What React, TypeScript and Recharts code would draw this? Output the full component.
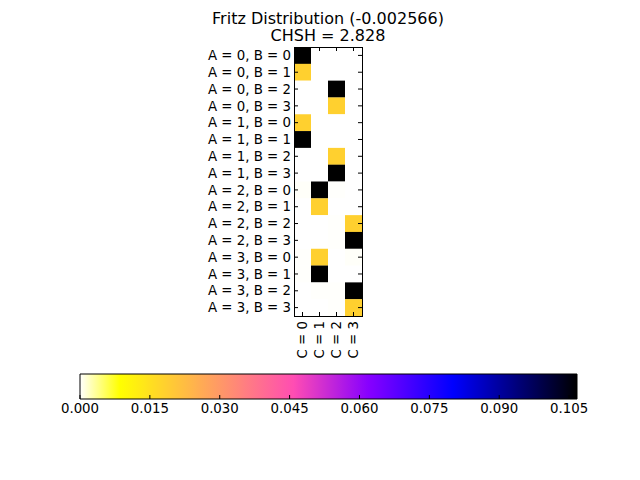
import { BarChart, Bar, XAxis, YAxis, Cell } from "recharts";

const FONT = "'DejaVu Sans', sans-serif";

// rows of the distribution, (A, B) pairs
const rowLabels = [
  "A = 0, B = 0", "A = 0, B = 1", "A = 0, B = 2", "A = 0, B = 3",
  "A = 1, B = 0", "A = 1, B = 1", "A = 1, B = 2", "A = 1, B = 3",
  "A = 2, B = 0", "A = 2, B = 1", "A = 2, B = 2", "A = 2, B = 3",
  "A = 3, B = 0", "A = 3, B = 1", "A = 3, B = 2", "A = 3, B = 3",
];
const colLabels = ["C = 0", "C = 1", "C = 2", "C = 3"];

// probability per column C, one entry per row
const c0 = [0.1067, 0.0183, 0, 0, 0.0183, 0.1067, 0, 0, 0.0002, 0, 0, 0, 0.0001, 0.0001, 0, 0];
const c1 = [0, 0, 0, 0, 0, 0, 0, 0, 0.1067, 0.0183, 0, 0, 0.0183, 0.1067, 0.0001, 0];
const c2 = [0, 0, 0.1067, 0.0183, 0, 0, 0.0183, 0.1067, 0.0001, 0, 0.0001, 0.0001, 0, 0, 0.0001, 0.0001];
const c3 = [0, 0, 0, 0, 0, 0, 0, 0, 0, 0, 0.0183, 0.1067, 0.0002, 0, 0.1067, 0.0183];
const columns = [c0, c1, c2, c3];

const VMAX = 0.1067;
const cbarTicks = [0, 0.015, 0.03, 0.045, 0.06, 0.075, 0.09, 0.105];

// heatmap axes box
const PLOT_L = 294;
const PLOT_R = 362;
const PLOT_T = 47;
const PLOT_B = 316;
// colorbar box
const CB_L = 80;
const CB_R = 577;
const CB_T = 374;
const CB_B = 399;

const clip = (v: number) => Math.max(0, Math.min(1, v));

// gnuplot2 reversed
const cmap = (t: number) => {
  const x = 1 - clip(t);
  const r = clip(x / 0.32 - 0.78125);
  const g = clip(2 * x - 0.84);
  let b: number;
  if (x < 0.25) b = 4 * x;
  else if (x < 0.42) b = 1;
  else if (x < 0.92) b = -2 * x + 1.84;
  else b = x / 0.08 - 11.5;
  b = clip(b);
  return `rgb(${Math.round(r * 255)},${Math.round(g * 255)},${Math.round(b * 255)})`;
};

const gradStops = Array.from({ length: 101 }, (_, i) => i / 100);

const rows = rowLabels.map((label) => ({ label, one: 1 }));
const cbarData = [{ name: "cbar", v: VMAX }];

const RowTick = (props: any) => {
  const { y, payload } = props;
  return (
    <g>
      <text x={PLOT_L - 3} y={y} dy={4.7} textAnchor="end" fontSize={13.33} fontFamily={FONT} fill="#000">
        {payload.value}
      </text>
      <line x1={PLOT_L} x2={PLOT_L + 4} y1={y} y2={y} stroke="#000" />
      <line x1={PLOT_R - 4} x2={PLOT_R} y1={y} y2={y} stroke="#000" />
    </g>
  );
};

const ColTick = (props: any) => {
  const { x, payload } = props;
  const label = colLabels[Math.floor(payload.value)];
  return (
    <g>
      <text
        transform={`translate(${x + 4.5},${PLOT_B + 5}) rotate(-90)`}
        textAnchor="end"
        fontSize={13.33}
        fontFamily={FONT}
        fill="#000"
      >
        {label}
      </text>
      <line x1={x} x2={x} y1={PLOT_B} y2={PLOT_B - 4} stroke="#000" />
      <line x1={x} x2={x} y1={PLOT_T} y2={PLOT_T + 4} stroke="#000" />
    </g>
  );
};

const CbarTick = (props: any) => {
  const { x, payload } = props;
  return (
    <g>
      <line x1={x} x2={x} y1={CB_B} y2={CB_B - 4} stroke="#000" />
      <text x={x} y={CB_B + 14} textAnchor="middle" fontSize={13.33} fontFamily={FONT} fill="#000">
        {payload.value.toFixed(3)}
      </text>
    </g>
  );
};

export default function App() {
  return (
    <div style={{ position: "absolute", left: 0, top: 0, width: 640, height: 480, background: "#fff" }}>
      <div
        style={{
          position: "absolute",
          left: 178,
          top: 10,
          width: 300,
          textAlign: "center",
          fontFamily: FONT,
          fontSize: 16,
          lineHeight: "17px",
          color: "#000",
        }}
      >
        Fritz Distribution (-0.002566)
        <br />
        CHSH = 2.828
      </div>

      <div style={{ position: "absolute", left: 0, top: 0 }}>
        <BarChart
          width={640}
          height={480}
          data={rows}
          layout="vertical"
          barCategoryGap={0}
          barGap={0}
          margin={{ top: PLOT_T, right: 640 - PLOT_R, bottom: 480 - PLOT_B - 50, left: PLOT_L - 94 }}
        >
          <XAxis
            type="number"
            domain={[0, 4]}
            ticks={[0.5, 1.5, 2.5, 3.5]}
            height={50}
            axisLine={false}
            tickLine={false}
            tick={<ColTick />}
            interval={0}
          />
          <YAxis
            type="category"
            dataKey="label"
            width={94}
            axisLine={false}
            tickLine={false}
            tick={<RowTick />}
            interval={0}
          />
          {columns.map((col, ci) => (
            <Bar key={ci} dataKey="one" stackId="s" isAnimationActive={false}>
              {col.map((v, ri) => (
                <Cell key={ri} fill={cmap(v / VMAX)} />
              ))}
            </Bar>
          ))}
        </BarChart>
      </div>

      <div
        style={{
          position: "absolute",
          left: PLOT_L,
          top: PLOT_T,
          width: PLOT_R - PLOT_L + 1,
          height: PLOT_B - PLOT_T + 1,
          boxSizing: "border-box",
          border: "1px solid #000",
          pointerEvents: "none",
        }}
      />

      <div style={{ position: "absolute", left: 0, top: 0 }}>
        <BarChart
          width={640}
          height={480}
          data={cbarData}
          layout="vertical"
          barCategoryGap={0}
          margin={{ top: CB_T, right: 640 - CB_R, bottom: 480 - CB_B - 20, left: CB_L }}
        >
          <defs>
            <linearGradient id="gnuplot2r" x1="0" y1="0" x2="1" y2="0">
              {gradStops.map((t) => (
                <stop key={t} offset={`${t * 100}%`} stopColor={cmap(t)} />
              ))}
            </linearGradient>
          </defs>
          <XAxis
            type="number"
            domain={[0, VMAX]}
            ticks={cbarTicks}
            height={20}
            axisLine={false}
            tickLine={false}
            tick={<CbarTick />}
            interval={0}
          />
          <YAxis type="category" dataKey="name" hide />
          <Bar dataKey="v" fill="url(#gnuplot2r)" stroke="#000" strokeWidth={1} isAnimationActive={false} />
        </BarChart>
      </div>
    </div>
  );
}
